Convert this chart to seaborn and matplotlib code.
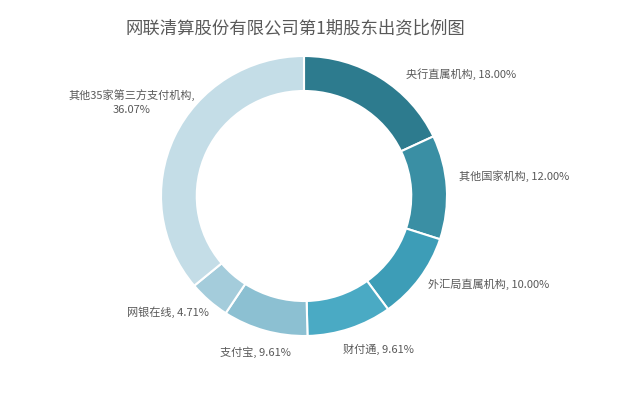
import matplotlib
matplotlib.use("Agg")
import matplotlib.pyplot as plt
import seaborn as sns

# shareholder data
names = ["央行直属机构", "其他国家机构", "外汇局直属机构", "财付通", "支付宝", "网银在线", "其他35家第三方支付机构"]
shares = [18.00, 12.00, 10.00, 9.61, 9.61, 4.71, 36.07]
colors = ["#2d7b8e", "#3a8fa4", "#3d9db7", "#4aaac4", "#8cc0d2", "#a4ccdb", "#c4dde7"]

# label centres in figure pixels (x, y from top)
label_pos = [(461, 74), (514, 176), (489, 284), (378, 349), (255, 352), (168, 312), (132, 102)]

sns.set_theme(style="white")
plt.rcParams["font.family"] = ["Noto Sans CJK SC", "DejaVu Sans"]

W, H = 640, 397
fig = plt.figure(figsize=(W / 100, H / 100), dpi=100)
ax = fig.add_axes([0, 0, 1, 1])

ax.pie(shares, colors=colors, startangle=90, counterclock=False,
       wedgeprops=dict(width=0.25, edgecolor="white", linewidth=1.5))

# map pixel layout: centre (304, 196), radius ~143 x 140 px
cx, cy, rx, ry = 304, 196, 143, 140
ax.set_aspect("auto")
ax.set_xlim(-cx / rx, (W - cx) / rx)
ax.set_ylim(-(H - cy) / ry, cy / ry)
ax.axis("off")

for name, val, (px, py) in zip(names, shares, label_pos):
    if name.startswith("其他35"):
        txt = f"{name},\n{val:.2f}%"
    else:
        txt = f"{name}, {val:.2f}%"
    fig.text(px / W, 1 - py / H, txt, ha="center", va="center",
             fontsize=8, color="#595959", linespacing=1.5)

fig.text(295 / W, 1 - 28 / H, "网联清算股份有限公司第1期股东出资比例图",
         ha="center", va="center", fontsize=12.5, color="#595959")

fig.savefig("out.png", dpi=100, facecolor="white")
